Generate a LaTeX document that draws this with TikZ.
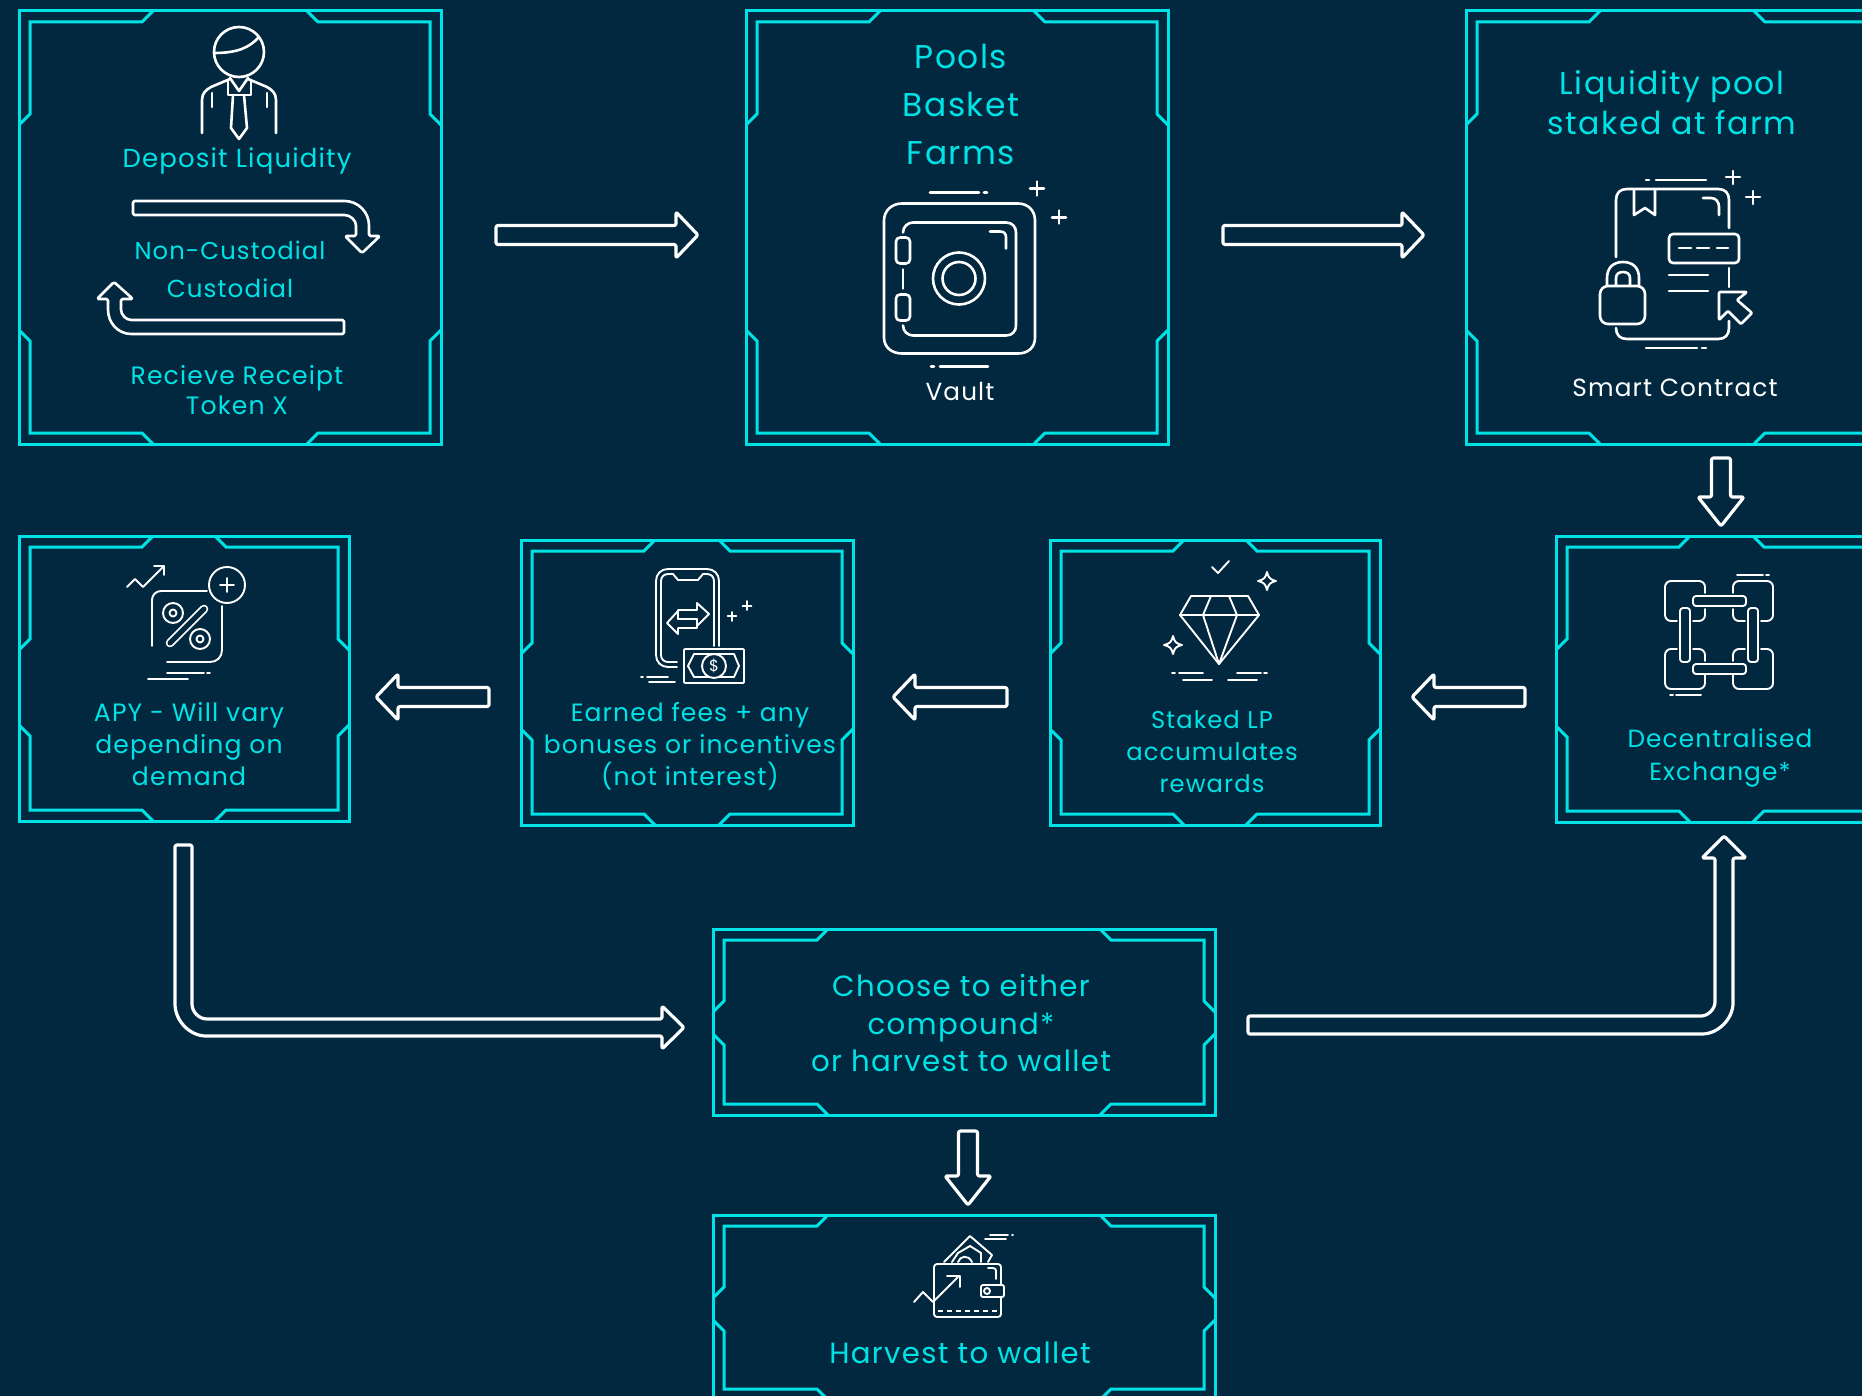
\documentclass[tikz,border=0pt]{standalone}
\usepackage{fontspec}
\setmainfont{Poppins}[LetterSpace=4.5]
\usetikzlibrary{calc}
\definecolor{bg}{HTML}{02283F}
\definecolor{cy}{HTML}{00E3E6}
\newcommand\fsz[2]{\fontsize{#1}{#2}\selectfont}
\tikzset{
  x=1pt,y=-1pt,
  frameline/.style={draw=cy,line width=3pt,line join=miter},
  boxnode/.style={rectangle,frameline,inner sep=0pt,outer sep=0pt,anchor=north west},
  ico/.style={draw=white,line width=2.6pt,line cap=round,line join=round},
  icot/.style={draw=white,line width=1.9pt,line cap=round,line join=round},
  blk/.style={draw=white,fill=bg,line width=3.2pt,line join=round,rounded corners=2pt},
  lab/.style={text=cy,align=center},
  labw/.style={text=white,align=center},
}
% box: name, x1,y1,w,h, notch-x, upper notch-y, lower notch-y
\newcommand\techbox[8]{%
  \node[boxnode,minimum width=#4pt,minimum height=#5pt] (#1) at (#2,#3) {};
  \draw[frameline]
    ([shift={(#6pt,0pt)}]#1.north west) -- ++(-11pt,-11pt) -| ([shift={(11pt,-#7pt+11pt)}]#1.north west) -- ([shift={(0pt,-#7pt)}]#1.north west);
  \draw[frameline]
    ([shift={(-#6pt,0pt)}]#1.north east) -- ++(11pt,-11pt) -| ([shift={(-11pt,-#7pt+11pt)}]#1.north east) -- ([shift={(0pt,-#7pt)}]#1.north east);
  \draw[frameline]
    ([shift={(#6pt,0pt)}]#1.south west) -- ++(-11pt,11pt) -| ([shift={(11pt,#8pt-11pt)}]#1.south west) -- ([shift={(0pt,#8pt)}]#1.south west);
  \draw[frameline]
    ([shift={(-#6pt,0pt)}]#1.south east) -- ++(11pt,11pt) -| ([shift={(-11pt,#8pt-11pt)}]#1.south east) -- ([shift={(0pt,#8pt)}]#1.south east);
}
% horizontal block arrow from (a) to tip (b); sign 1 = right, -1 = left
\newcommand\hblock[3]{%
  \draw[blk] ([yshift=9.5pt]#1) -- ([shift={(#3*-22pt,9.5pt)}]#2) -- ([shift={(#3*-22pt,23pt)}]#2) -- (#2) -- ([shift={(#3*-22pt,-23pt)}]#2) -- ([shift={(#3*-22pt,-9.5pt)}]#2) -- ([yshift=-9.5pt]#1) -- cycle;
}
% vertical block arrow from (a) to tip (b); sign 1 = downward
\newcommand\vblock[3]{%
  \draw[blk] ([xshift=9.5pt]#1) -- ([shift={(9.5pt,#3*29pt)}]#2) -- ([shift={(23pt,#3*29pt)}]#2) -- (#2) -- ([shift={(-23pt,#3*29pt)}]#2) -- ([shift={(-9.5pt,#3*29pt)}]#2) -- ([xshift=-9.5pt]#1) -- cycle;
}
\newcommand\sparkle[2]{%
  \draw[icot] (#1,#2-9) .. controls (#1+1.5,#2-3) and (#1+3,#2-1.5) .. (#1+9,#2) .. controls (#1+3,#2+1.5) and (#1+1.5,#2+3) .. (#1,#2+9) .. controls (#1-1.5,#2+3) and (#1-3,#2+1.5) .. (#1-9,#2) .. controls (#1-3,#2-1.5) and (#1-1.5,#2-3) .. (#1,#2-9) -- cycle;
}
\begin{document}
\begin{tikzpicture}
\useasboundingbox (0,0) rectangle (1862,1396);
\fill[bg] (0,0) rectangle (1862,1396);
\begin{scope}
\clip (0,0) rectangle (1862,1396);
\techbox{b1}{19}{11}{422}{433}{134}{114}{114}
\techbox{b2}{746}{11}{422}{433}{134}{114}{114}
\techbox{b3}{1466}{11}{422}{433}{134}{114}{114}
\techbox{b4}{1556}{536}{331}{286}{134}{114}{96}
\techbox{b5}{1050}{540}{330}{285}{134}{114}{96}
\techbox{b6}{521}{540}{332}{285}{134}{114}{96}
\techbox{b7}{19}{536}{330}{285}{134}{114}{96}
\techbox{b8}{713}{929}{502}{186}{115}{83}{81}
\techbox{b9}{713}{1215}{502}{185}{115}{83}{80}
\end{scope}

% top row arrows
\coordinate (a1s) at ([shift={(55pt,-7.5pt)}]b1.east);
\coordinate (a1e) at ([shift={(-48pt,-7.5pt)}]b2.west);
\hblock{a1s}{a1e}{1}
\coordinate (a2s) at ([shift={(55pt,-7.5pt)}]b2.east);
\coordinate (a2e) at ([shift={(-42pt,-7.5pt)}]b3.west);
\hblock{a2s}{a2e}{1}
\coordinate (a3s) at (1721,458);
\coordinate (a3e) at (1721,526);
\vblock{a3s}{a3e}{1}
% row 2 arrows
\coordinate (a4s) at (1525,697);
\coordinate (a4e) at (1412,697);
\hblock{a4s}{a4e}{-1}
\coordinate (a5s) at (1007,697);
\coordinate (a5e) at (893,697);
\hblock{a5s}{a5e}{-1}
\coordinate (a6s) at (489,697);
\coordinate (a6e) at (376,697);
\hblock{a6s}{a6e}{-1}
% bottom down arrow
\coordinate (a7s) at (968,1131);
\coordinate (a7e) at (968,1205);
\vblock{a7s}{a7e}{1}

% elbows
\coordinate (e1s) at (183.5,845);
\coordinate (e1e) at (684,1027.5);
\draw[blk] ([xshift=-8.5pt]e1s) -- (175,1002) .. controls (175,1021) and (190,1036) .. (208,1036) -- (662,1036) -- (662,1049) -- (e1e) -- (662,1006) -- (662,1019) -- (209,1019) .. controls (199,1019) and (192,1012) .. (192,1002) -- ([xshift=8.5pt]e1s) -- cycle;
\coordinate (e2s) at (1248,1025);
\coordinate (e2e) at (1724,836);
\draw[blk] ([yshift=9pt]e2s) -- (1699,1016) .. controls (1708,1016) and (1715,1009) .. (1715,1000) -- (1715,858) -- (1702,858) -- (e2e) -- (1746,858) -- (1733,858) -- (1733,1001) .. controls (1733,1019) and (1718,1034) .. (1700,1034) -- ([yshift=-9pt]e2s) -- cycle;

% texts box1
\node[lab,font=\fsz{26}{32}] (t1) at (237,161) {Deposit Liquidity};
\node[lab,font=\fsz{24.3}{32}] (t2) at (230,250) {Non-Custodial};
\node[lab,font=\fsz{24.6}{32}] (t3) at (230,288) {Custodial};
\node[lab,font=\fsz{25.1}{30}] (t4) at (237,390) {Recieve Receipt\\Token X};
% small elbow arrows box1
\draw[ico,rounded corners=1.5pt] (133,201) -- (343,201) .. controls (358,201) and (369,212) .. (369,227) -- (369,236) -- (380,236) -- (362,253) -- (345,236) -- (356,236) -- (356,227) .. controls (356,220) and (350,215) .. (343,215) -- (133,215) -- cycle;
\draw[ico,rounded corners=1.5pt] (344,320) -- (133,320) .. controls (126,320) and (121,315) .. (121,308) -- (121,299) -- (133,299) -- (114,282) -- (97,299) -- (108,299) -- (108,308) .. controls (108,323) and (118,334) .. (133,334) -- (344,334) -- cycle;

% person icon
\begin{scope}[shift={(239,0)}]
\draw[ico] (0,52) circle (25);
\draw[ico] (-25,53) .. controls (-2,53) and (10,48) .. (20,37);
\draw[ico] (-37,133) -- (-37,100) .. controls (-37,93) and (-33,90) .. (-28,87) -- (-9,79);
\draw[ico] (37,133) -- (37,100) .. controls (37,93) and (33,90) .. (28,87) -- (9,79);
\draw[ico] (-27,93) -- (-27,107);
\draw[ico] (28,93) -- (28,107);
\draw[ico] (-11,80) -- (-11,95) -- (12,95) -- (12,80);
\draw[ico] (-9,78) -- (0,91) -- (9,78);
\draw[ico] (-6,95) -- (-8,128) -- (0,139) -- (8,128) -- (5,95);
\end{scope}

% box 2
\node[lab,font=\fsz{32.9}{48}] (t5) at (961,104.5) {Pools\\Basket\\Farms};
\node[labw,font=\fsz{24.7}{32}] (t6) at (960,391) {Vault};
\begin{scope}[shift={(840,160.5)}]
\draw[ico] (90,32) -- (139,32) (144,32) -- (147,32);
\draw[ico] (91,206) -- (94,206) (100,206) -- (148,206);
\draw[ico] (197,21) -- (197,35) (190,28) -- (204,28);
\draw[ico] (219,50) -- (219,63) (212,57) -- (226,57);
\draw[ico] (62,43) -- (178,43) .. controls (188,43) and (195,50) .. (195,60) -- (195,177) .. controls (195,187) and (188,193) .. (178,193) -- (62,193) .. controls (52,193) and (44,187) .. (44,177) -- (44,60) .. controls (44,50) and (52,43) .. (62,43) -- cycle;
\draw[ico] (63,72) .. controls (63,66) and (68,62) .. (73,62) -- (166,62) .. controls (172,62) and (176,66) .. (176,72) -- (176,165) .. controls (176,171) and (172,175) .. (166,175) -- (73,175) .. controls (68,175) and (63,171) .. (63,165);
\draw[ico] (150,71) -- (160,71) .. controls (164,71) and (166,73) .. (166,77) -- (166,88);
\draw[ico,rounded corners=4pt] (56,77) rectangle (70,103);
\draw[ico,rounded corners=4pt] (56,134) rectangle (70,160);
\draw[ico] (63,109) -- (63,128);
\draw[ico] (119,118) circle (26);
\draw[ico] (119,118) circle (16.5);
\end{scope}

% box 3
\node[lab,font=\fsz{31.6}{40}] (t7) at (1672,103) {Liquidity pool\\staked at farm};
\node[labw,font=\fsz{24.8}{32}] (t8) at (1675,388) {Smart Contract};
\begin{scope}[shift={(1560,150)}]
\draw[ico] (86,30) -- (89,30) (96,30) -- (146,30);
\draw[ico] (86,198) -- (137,198) (142,198) -- (146,198);
\draw[ico] (173,21) -- (173,34) (166,27) -- (180,27);
\draw[ico] (193,41) -- (193,54) (186,47) -- (200,47);
\draw[ico] (56,107) -- (56,50) .. controls (56,43) and (60,39) .. (67,39) -- (158,39) .. controls (165,39) and (169,43) .. (169,50) -- (169,78);
\draw[ico] (169,118) -- (169,137);
\draw[ico] (169,171) -- (169,178) .. controls (169,185) and (165,189) .. (158,189) -- (67,189) .. controls (60,189) and (56,185) .. (56,178);
\draw[ico] (74,40) -- (74,65) -- (85,58) -- (95,65) -- (95,40);
\draw[ico] (143,48) -- (151,48) .. controls (156,48) and (159,52) .. (159,57) -- (159,65);
\draw[ico,rounded corners=4pt] (109,84) rectangle (179,113);
\draw[ico] (119,98) -- (131,98) (137,98) -- (149,98) (157,98) -- (168,98);
\draw[ico] (109,125) -- (148,125) (109,141) -- (148,141);
\draw[ico,rounded corners=8pt] (40,136) rectangle (85,174);
\draw[ico] (47,135) -- (47,128) .. controls (47,118) and (53,112) .. (63,112) .. controls (73,112) and (79,118) .. (79,128) -- (79,135);
\draw[ico] (56,135) -- (56,128) .. controls (56,124) and (59,122) .. (63,122) .. controls (67,122) and (70,124) .. (70,128) -- (70,135);
\draw[ico,rounded corners=1pt] (159,142) -- (187,142) -- (177,150) -- (192,163) -- (181,174) -- (168,161) -- (159,170) -- cycle;
\end{scope}

% box 4
\node[lab,font=\fsz{24.8}{32.5}] (t9) at (1720,758) {Decentralised\\Exchange*};
\begin{scope}[shift={(1620,540)}]
\begin{scope}[rounded corners=6pt]
\draw[icot] (85,53) -- (85,41) -- (45,41) -- (45,81) -- (57,81);
\draw[icot] (73,81) -- (85,81) -- (85,69);
\draw[icot] (113,53) -- (113,41) -- (153,41) -- (153,81) -- (141,81);
\draw[icot] (113,69) -- (113,81) -- (125,81);
\draw[icot] (57,109) -- (45,109) -- (45,149) -- (85,149) -- (85,135);
\draw[icot] (73,109) -- (85,109) -- (85,121);
\draw[icot] (125,109) -- (113,109) -- (113,121);
\draw[icot] (141,109) -- (153,109) -- (153,149) -- (113,149) -- (113,135);
\end{scope}
\draw[icot,rounded corners=3pt] (73,56) rectangle (126,66);
\draw[icot,rounded corners=3pt] (73,124) rectangle (126,134);
\draw[icot,rounded corners=3pt] (60,68) rectangle (70,122);
\draw[icot,rounded corners=3pt] (128,68) rectangle (138,122);
\draw[icot] (117,35) -- (143,35) (146,35) -- (149,35);
\draw[icot] (50,155) -- (53,155) (56,155) -- (81,155);
\end{scope}

% box 5
\node[lab,font=\fsz{24.2}{32}] (t10) at (1212,752) {Staked LP\\accumulates\\rewards};
\begin{scope}[shift={(1130,540)}]
\draw[icot] (61,56) -- (118,56) -- (129,75) -- (89,124) -- (50,75) -- cycle;
\draw[icot] (50,75) -- (129,75);
\draw[icot] (81,56) -- (73,75) -- (89,124) -- (107,75) -- (99,56);
\draw[icot] (82,27) -- (88,33) -- (99,21);
\sparkle{137}{41}
\sparkle{43}{105}
\draw[icot] (42,133) -- (45,133) (49,133) -- (73,133) (107,133) -- (131,133) (134,133) -- (137,133);
\draw[icot] (53,140) -- (82,140) (98,140) -- (127,140);
\end{scope}

% box 6
\node[lab,font=\fsz{25}{32}] (t11) at (690,746.5) {Earned fees + any\\bonuses or incentives\\(not interest)};
\begin{scope}[shift={(620,550)}]
\draw[icot] (57,117) -- (48,117) .. controls (41,117) and (36,112) .. (36,105) -- (36,31) .. controls (36,24) and (41,19) .. (48,19) -- (87,19) .. controls (94,19) and (99,24) .. (99,31) -- (99,96);
\draw[icot] (57,112) -- (48,112) .. controls (44,112) and (41,109) .. (41,105) -- (41,31) .. controls (41,27) and (44,24) .. (48,24) -- (53,24) -- (58,30) -- (78,30) -- (83,24) -- (87,24) .. controls (91,24) and (94,27) .. (94,31) -- (94,96);
\draw[icot] (58,69) -- (58,60) -- (77,60) -- (77,53) -- (89,64) -- (77,76) -- (77,69) -- cycle;
\draw[icot] (58,69) -- (58,61) -- (47,73) -- (58,84) -- (58,78) -- (77,78) -- (77,69);
\draw[icot] (112,62) -- (112,71) (107.5,66) -- (116.5,66);
\draw[icot] (127,51) -- (127,60) (122.5,56) -- (131.5,56);
\draw[icot,rounded corners=1pt] (64,99) rectangle (124,133);
\draw[icot] (68,116) -- (74,104) -- (114,104) -- (119,116) -- (114,127) -- (74,127) -- cycle;
\draw[icot,fill=bg] (94,116) circle (12);
\node[text=white,inner sep=0pt,font=\fsz{16}{16}] (dollar) at (94,116) {\$};
\draw[icot] (21,127) -- (23,127) (27,127) -- (48,127);
\draw[icot] (29,132) -- (55,132);
\end{scope}

% box 7
\node[lab,font=\fsz{25.1}{32}] (t12) at (189,744.5) {APY - Will vary\\depending on\\demand};
\begin{scope}[shift={(110,550)}]
\draw[icot] (17,37) -- (25,29) -- (33,37) -- (54,16);
\draw[icot] (44,16) -- (54,16) -- (54,25);
\draw[icot] (117,35) circle (18);
\draw[icot] (117,28) -- (117,42) (110,35) -- (124,35);
\draw[icot] (42,96) -- (42,50) .. controls (42,45) and (46,41) .. (51,41) -- (97,41);
\draw[icot] (112,56) -- (112,100) .. controls (112,107) and (107,112) .. (100,112) -- (57,112);
\draw[icot] (63,63) circle (10);
\draw[icot] (63,63) circle (3.5);
\draw[icot] (90,89) circle (10);
\draw[icot] (90,89) circle (3.5);
\draw[white,line width=8.6pt,line cap=round] (60,93) -- (94,59);
\draw[bg,line width=5pt,line cap=round] (60,93) -- (94,59);
\draw[icot] (57,123) -- (94,123) (97,123) -- (100,123);
\draw[icot] (38,129) -- (78,129);
\end{scope}

% box 8
\node[lab,font=\fsz{29.2}{37.5}] (t13) at (961,1023.5) {Choose to either\\compound*\\or harvest to wallet};

% box 9
\node[lab,font=\fsz{29.2}{37.5}] (t14) at (960,1353) {Harvest to wallet};
\begin{scope}[shift={(890,1210)}]
\draw[icot,rounded corners=3pt] (44,54) rectangle (111,107);
\draw[icot] (54,52) -- (80,26) -- (102,45) -- (98,52);
\draw[icot] (62,52) -- (68,43) -- (80,36) -- (91,43) -- (91,52);
\draw[icot] (68,52) .. controls (70,46) and (78,44) .. (82,52);
\draw[icot] (98,58) -- (103,58) .. controls (105,58) and (106,59) .. (106,61) -- (106,69);
\draw[icot,fill=bg,rounded corners=2pt] (91,75) rectangle (114,87);
\draw[icot] (97,81) circle (3);
\draw[icot] (24,92) -- (33,82) -- (43,92) -- (68,67);
\draw[icot] (57,66) -- (70,66) -- (70,77);
\draw[icot,dash pattern=on 5pt off 4pt,line cap=butt] (48,101) -- (107,101);
\draw[icot] (100,25) -- (118,25) (122,25) -- (123,25);
\draw[icot] (95,29) -- (116,29);
\end{scope}
\end{tikzpicture}
\end{document}
